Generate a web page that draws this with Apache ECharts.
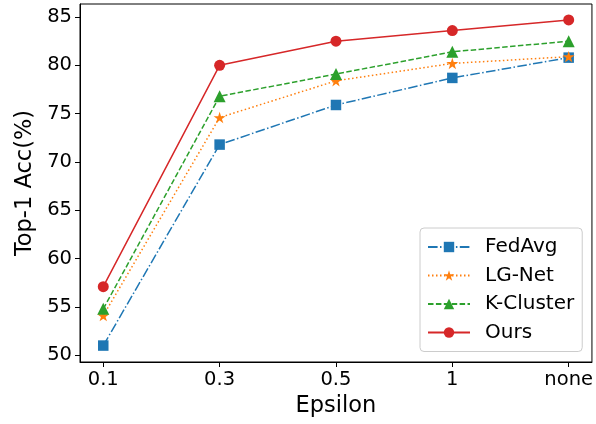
<!DOCTYPE html>
<html>
<head>
<meta charset="utf-8">
<script src="https://cdn.jsdelivr.net/npm/echarts@6/dist/echarts.min.js"></script>
<style>html,body{margin:0;padding:0;background:#fff}#c{width:596px;height:424px}</style>
</head>
<body>
<div id="c"></div>
<script>
const categories = ['0.1', '0.3', '0.5', '1', 'none'];
const fedAvg   = [51.0, 71.8, 75.9, 78.7, 80.8];
const lgNet    = [54.1, 74.6, 78.4, 80.2, 80.9];
const kCluster = [54.8, 76.8, 79.1, 81.4, 82.5];
const ours     = [57.1, 80.0, 82.5, 83.6, 84.7];
const yTicks = [50, 55, 60, 65, 70, 75, 80, 85];

const STAR = 'path://M50 0 L61.23 34.55 L97.55 34.55 L68.17 55.9 L79.39 90.45 L50 69.1 L20.61 90.45 L31.83 55.9 L2.45 34.55 L38.77 34.55 Z';
const FONT = 'DejaVu Sans';
const xIdx = categories.map((_, i) => i);

function mk(name, vals, color, dash, symbol, size) {
  return {
    name: name, type: 'line',
    data: vals.map((v, i) => [i, v]),
    symbol: symbol, symbolSize: size, symbolKeepAspect: true,
    showSymbol: true,
    lineStyle: { color: color, width: 1.5, type: dash },
    itemStyle: { color: color, borderWidth: 0 },
    emphasis: { disabled: true },
    z: 3
  };
}

const chart = echarts.init(document.getElementById('c'), null, { renderer: 'canvas' });
chart.setOption({
  animation: false,
  backgroundColor: '#fff',
  textStyle: { fontFamily: FONT },
  grid: { left: 80, right: 3, top: 4, bottom: 62, show: true, borderColor: '#000', borderWidth: 1, backgroundColor: 'transparent' },
  xAxis: {
    type: 'value', min: -0.2, max: 4.2,
    name: 'Epsilon', nameLocation: 'middle', nameGap: 33,
    nameTextStyle: { fontSize: 22.5, color: '#000', fontFamily: FONT },
    axisLine: { show: true, onZero: false, lineStyle: { color: '#000', width: 1 } },
    axisTick: { show: true, length: 5, lineStyle: { color: '#000' }, customValues: xIdx },
    axisLabel: { fontSize: 19.5, color: '#000', margin: 8, fontFamily: FONT, customValues: xIdx,
      formatter: v => categories[Math.round(v)] },
    splitLine: { show: false }
  },
  yAxis: {
    type: 'value', min: 49.3, max: 86.35,
    name: 'Top-1 Acc(%)', nameLocation: 'middle', nameGap: 43,
    nameTextStyle: { fontSize: 22.5, color: '#000', fontFamily: FONT },
    axisLine: { show: true, onZero: false, lineStyle: { color: '#000', width: 1 } },
    axisTick: { show: true, length: 5, lineStyle: { color: '#000' }, customValues: yTicks },
    axisLabel: { fontSize: 19.5, color: '#000', margin: 8, fontFamily: FONT, customValues: yTicks },
    splitLine: { show: false }
  },
  legend: {
    orient: 'vertical', left: 420, top: 228,
    padding: [9, 8, 9, 7],
    itemWidth: 42, itemHeight: 13, itemGap: 8.5,
    borderColor: '#cccccc', borderWidth: 1, borderRadius: 4, backgroundColor: '#fff',
    textStyle: { fontSize: 20, color: '#000', fontFamily: FONT, padding: [0, 0, 0, 10] },
    data: ['FedAvg', 'LG-Net', 'K-Cluster', 'Ours']
  },
  series: [
    mk('FedAvg', fedAvg, '#1f77b4', [9.6, 2.4, 1.5, 2.4], 'rect', 10.5),
    mk('LG-Net', lgNet, '#ff7f0e', [1.5, 2.5], STAR, 12),
    mk('K-Cluster', kCluster, '#2ca02c', [5.5, 2.4], 'triangle', 12),
    mk('Ours', ours, '#d62728', 'solid', 'circle', 11)
  ]
});
</script>
</body>
</html>
